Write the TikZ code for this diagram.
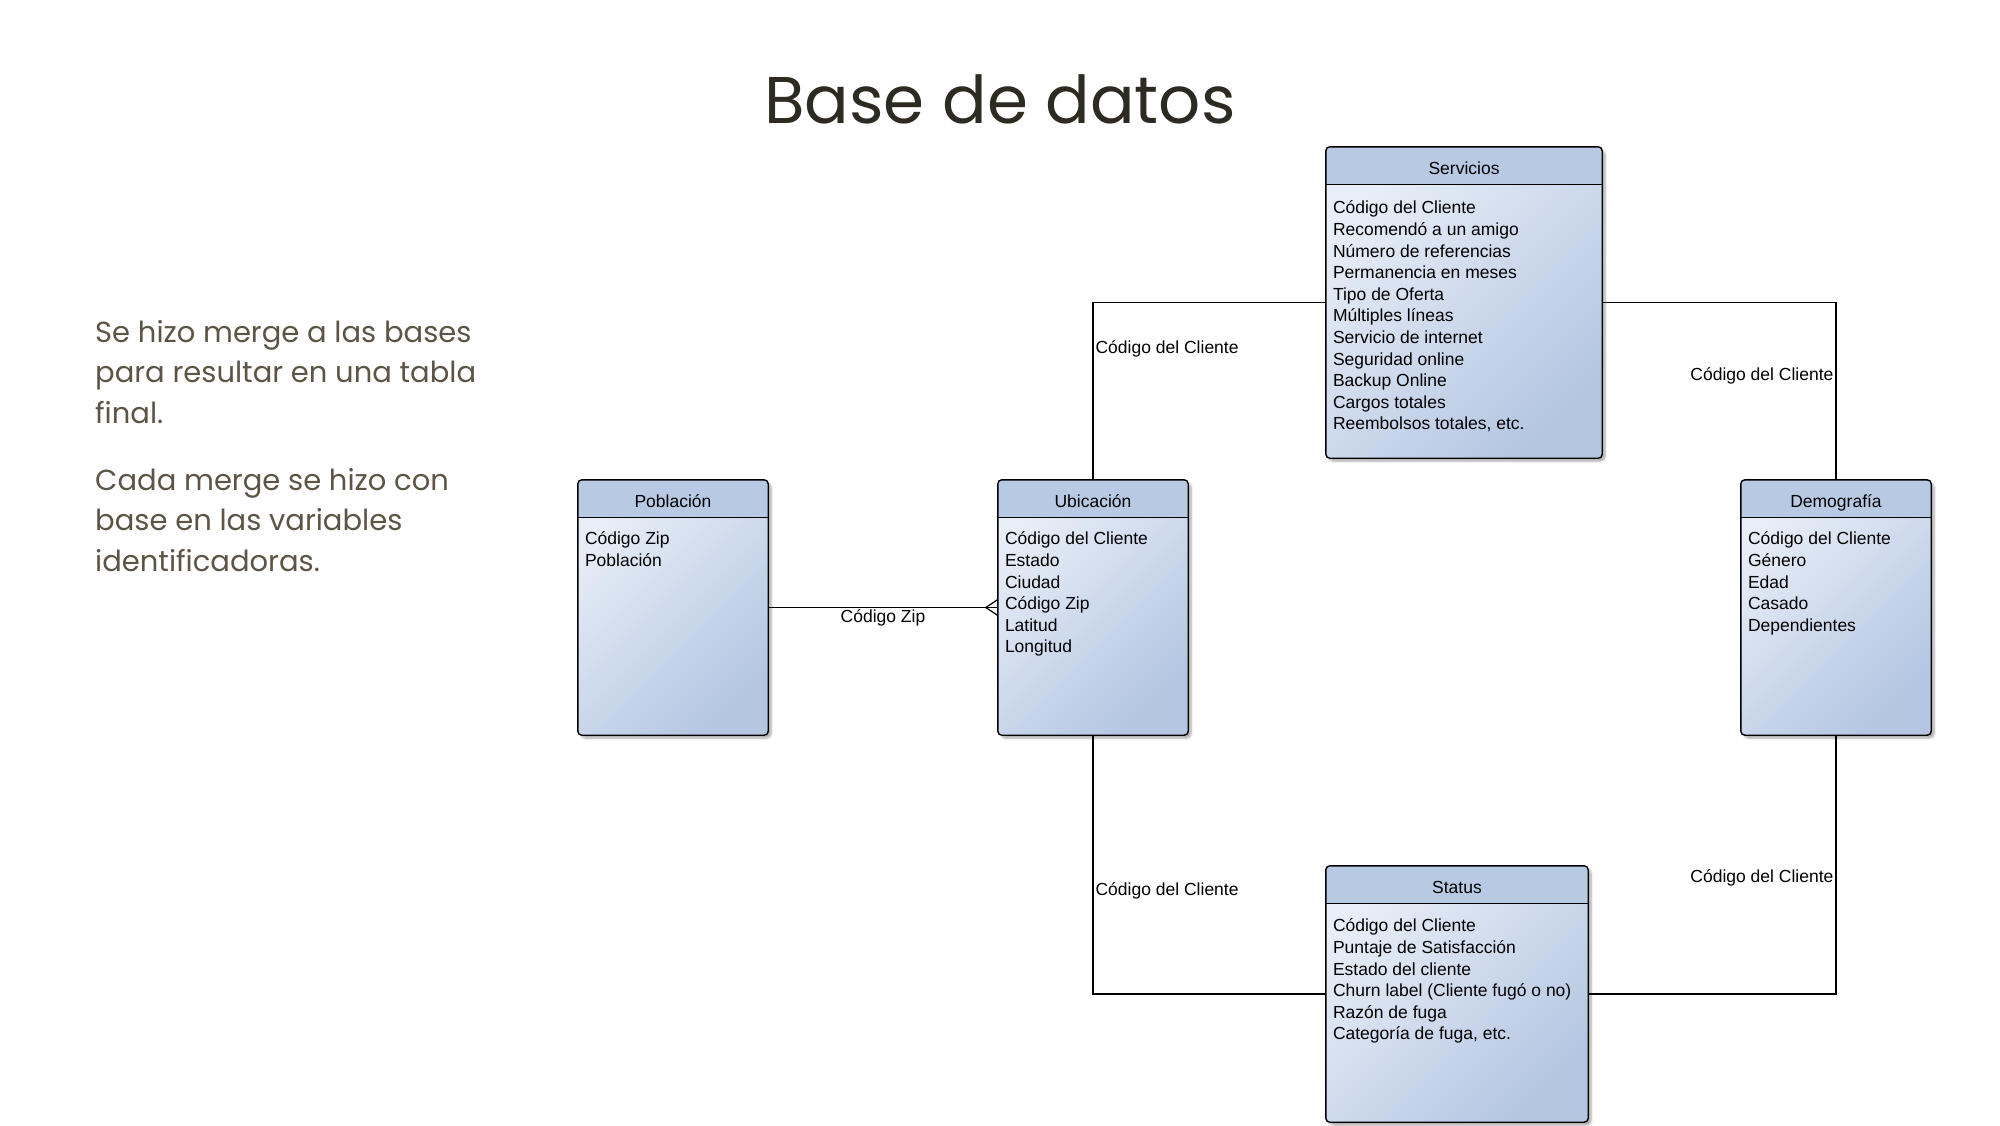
\documentclass[tikz,border=0pt]{standalone}
\usepackage{fontspec}
\setmainfont{Liberation Sans}
\newfontfamily\poppins{Poppins}
\usetikzlibrary{shadows.blur}

\definecolor{headfill}{RGB}{184,201,228}
\definecolor{bodylight}{RGB}{232,238,247}
\definecolor{bodydark}{RGB}{180,198,226}
\definecolor{titlegray}{RGB}{45,42,34}
\definecolor{introgray}{RGB}{92,85,70}

\begin{document}
\begin{tikzpicture}[x=1pt, y=-1pt,
    tabla/.style={rectangle, rounded corners=4pt, inner sep=0pt,
      top color=bodylight, bottom color=bodydark, shading angle=45,
      blur shadow={shadow xshift=3pt, shadow yshift=-3pt, shadow blur steps=6, shadow opacity=35}},
    cabecera/.style={anchor=base, inner sep=0pt, font=\fontsize{17.5}{21}\selectfont},
    fila/.style={anchor=base west, inner sep=0pt, font=\fontsize{17.5}{21}\selectfont},
    enlace/.style={line width=1.2pt},
    etiqueta/.style={inner sep=2pt, font=\fontsize{17.5}{21}\selectfont},
    intro/.style={anchor=base west, inner sep=0pt, text=introgray, font=\poppins\fontsize{29}{40}\selectfont}]
  \useasboundingbox (0,0) rectangle (2000,1125);

  % Title
  \node[anchor=base, inner sep=0pt, text=titlegray, font=\poppins\fontsize{66}{74}\selectfont] (titulo) at (1000,123) {Base de datos};

  % Left text
  \foreach \l [count=\i] in {Se hizo merge a las bases, para resultar en una tabla, final.}
    \node[intro] (pa-\i) at (95,{342+40.5*(\i-1)}) {\l};
  \foreach \l [count=\i] in {Cada merge se hizo con, base en las variables, identificadoras.}
    \node[intro] (pb-\i) at (95,{490+40.5*(\i-1)}) {\l};

  % Tables
  \node[tabla, minimum width=190pt, minimum height=255pt] (pob) at (673,607.5) {};
  \node[tabla, minimum width=190pt, minimum height=255pt] (ubi) at (1093,607.5) {};
  \node[tabla, minimum width=276pt, minimum height=311pt] (serv) at (1464,302.5) {};
  \node[tabla, minimum width=190pt, minimum height=255pt] (demo) at (1836,607.5) {};
  \node[tabla, minimum width=262pt, minimum height=256pt] (stat) at (1457,994) {};

  % Header band and border
  \foreach \tb in {pob,ubi,serv,demo,stat} {
    \begin{scope}
      \clip[rounded corners=4pt] (\tb.south west) rectangle (\tb.north east);
      \fill[headfill] (\tb.north west) rectangle ([yshift=-38pt]\tb.north east);
    \end{scope}
    \draw[line width=1.2pt] ([yshift=-38pt]\tb.north west) -- ([yshift=-38pt]\tb.north east);
    \draw[line width=1.4pt, rounded corners=4pt] (\tb.south west) rectangle (\tb.north east);
  }

  % Table names
  \node[cabecera] (pob-h) at ([yshift=-27.5pt]pob.north) {Población};
  \node[cabecera] (ubi-h) at ([yshift=-27.5pt]ubi.north) {Ubicación};
  \node[cabecera] (serv-h) at ([yshift=-27.5pt]serv.north) {Servicios};
  \node[cabecera] (demo-h) at ([yshift=-27.5pt]demo.north) {Demografía};
  \node[cabecera] (stat-h) at ([yshift=-27.5pt]stat.north) {Status};

  % Fields
  \foreach \r [count=\i] in {Código Zip, Población}
    \node[fila] (pob-\i) at ([xshift=7pt, yshift={-65pt-21.6pt*(\i-1)}]pob.north west) {\r};
  \foreach \r [count=\i] in {Código del Cliente, Estado, Ciudad, Código Zip, Latitud, Longitud}
    \node[fila] (ubi-\i) at ([xshift=7pt, yshift={-65pt-21.6pt*(\i-1)}]ubi.north west) {\r};
  \foreach \r [count=\i] in {Código del Cliente, Recomendó a un amigo, Número de referencias,
      Permanencia en meses, Tipo de Oferta, Múltiples líneas, Servicio de internet,
      Seguridad online, Backup Online, Cargos totales, {Reembolsos totales, etc.}}
    \node[fila] (serv-\i) at ([xshift=7pt, yshift={-67pt-21.6pt*(\i-1)}]serv.north west) {\r};
  \foreach \r [count=\i] in {Código del Cliente, Género, Edad, Casado, Dependientes}
    \node[fila] (demo-\i) at ([xshift=7pt, yshift={-65pt-21.6pt*(\i-1)}]demo.north west) {\r};
  \foreach \r [count=\i] in {Código del Cliente, Puntaje de Satisfacción, Estado del cliente,
      Churn label (Cliente fugó o no), Razón de fuga, {Categoría de fuga, etc.}}
    \node[fila] (stat-\i) at ([xshift=7pt, yshift={-66pt-21.6pt*(\i-1)}]stat.north west) {\r};

  % Links
  \draw[enlace] (pob.east) -- (ubi.west) node[etiqueta, midway, below] (l-zip) {Código Zip};
  \coordinate (pata) at ([xshift=-12pt]ubi.west);
  \draw[enlace] ([yshift=8pt]ubi.west) -- (pata) -- ([yshift=-8pt]ubi.west);

  \draw[enlace] (ubi.north) |- (serv.west) node[etiqueta, pos=0.368, right] (l-us) {Código del Cliente};
  \draw[enlace] (serv.east) -| (demo.north) node[etiqueta, pos=0.707, left] (l-sd) {Código del Cliente};
  \draw[enlace] (ubi.south) |- (stat.west) node[etiqueta, pos=0.3, right] (l-ut) {Código del Cliente};
  \draw[enlace] (demo.south) |- (stat.east) node[etiqueta, pos=0.275, left] (l-dt) {Código del Cliente};
\end{tikzpicture}
\end{document}
